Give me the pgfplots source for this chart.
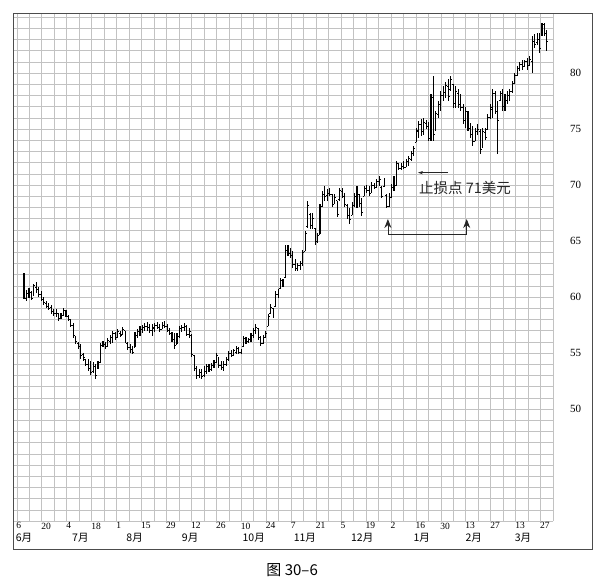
\documentclass[border=0pt]{standalone}
\usepackage{fontspec}
\setmainfont{Liberation Serif}
\newfontfamily\cjk{Noto Sans CJK SC}
\usepackage{pgfplots}
\pgfplotsset{compat=1.18}
\usepackage{pgfplotstable}
\usetikzlibrary{arrows.meta,calc}

% open / close ticks of the bars
\pgfdeclareplotmark{otick}{\pgfpathmoveto{\pgfpointorigin}\pgfpathlineto{\pgfpoint{-1.3pt}{0pt}}\pgfusepathqstroke}
\pgfdeclareplotmark{ctick}{\pgfpathmoveto{\pgfpointorigin}\pgfpathlineto{\pgfpoint{1.3pt}{0pt}}\pgfusepathqstroke}

% d = trading day, h l o c
\pgfplotstableread{
d h l o c
0 62.1 59.8 62.0 60.0
1 60.6 59.6 59.9 60.3
2 60.8 59.9 60.2 60.5
3 60.5 59.7 60.4 59.9
4 61.2 60.1 60.2 61.0
5 61.3 60.4 60.9 60.7
6 60.9 60.0 60.6 60.2
7 60.5 59.6 60.2 59.8
8 60.0 59.3 59.8 59.5
9 59.6 59.0 59.4 59.2
10 59.5 58.8 59.2 59.0
11 59.3 58.5 59.1 58.7
12 58.9 58.3 58.7 58.5
13 58.9 58.2 58.5 58.6
14 58.6 57.9 58.5 58.1
15 58.6 58.0 58.1 58.4
16 59.0 58.3 58.4 58.8
17 58.8 58.2 58.7 58.4
18 58.4 57.9 58.3 58.0
19 58.0 57.3 57.9 57.5
20 57.7 56.3 57.5 56.6
21 56.5 55.8 56.5 56.0
22 56.0 55.4 55.9 55.6
23 55.8 54.5 55.6 54.8
24 55.0 54.3 54.9 54.6
25 54.5 53.8 54.4 54.0
26 54.5 53.4 54.0 53.7
27 54.3 53.0 53.6 53.3
28 54.2 53.2 53.4 53.9
29 54.0 52.7 53.8 53.0
30 54.3 53.6 53.6 54.1
31 55.9 54.1 54.2 55.7
32 56.1 55.5 55.7 55.8
33 56.0 55.4 55.8 55.6
34 56.3 55.5 55.6 56.1
35 56.6 55.8 56.0 56.4
36 57.0 55.9 56.4 56.8
37 56.9 56.2 56.8 56.4
38 57.1 56.3 56.4 56.9
39 57.0 56.4 56.8 56.6
40 57.3 56.6 56.7 57.1
41 57.0 55.9 57.0 56.0
42 56.0 55.3 55.9 55.5
43 55.8 55.0 55.5 55.3
44 55.6 54.9 55.3 55.1
45 56.9 55.5 55.5 56.7
46 57.1 56.3 56.6 56.9
47 57.4 56.5 56.9 57.2
48 57.5 56.8 57.1 57.3
49 57.7 57.0 57.3 57.4
50 57.8 57.0 57.4 57.3
51 57.6 56.8 57.3 57.0
52 57.6 56.5 57.0 57.3
53 57.7 56.9 57.2 57.5
54 57.8 57.1 57.5 57.3
55 57.6 56.9 57.3 57.1
56 57.8 57.1 57.1 57.6
57 57.9 57.2 57.5 57.4
58 57.6 56.9 57.4 57.0
59 57.2 56.6 57.0 56.8
60 56.9 56.0 56.8 56.2
61 56.8 55.4 56.2 55.7
62 56.8 55.8 55.8 56.5
63 57.4 56.3 56.5 57.2
64 57.5 56.9 57.2 57.3
65 57.7 57.0 57.3 57.4
66 57.5 56.5 57.4 56.7
67 57.2 56.3 56.7 56.9
68 56.7 54.6 56.6 54.9
69 54.8 53.4 54.8 53.6
70 53.8 52.7 53.6 53.0
71 53.6 52.8 53.0 53.3
72 53.6 52.7 53.3 52.9
73 53.8 52.9 53.0 53.5
74 54.0 53.1 53.4 53.8
75 54.0 53.3 53.8 53.5
76 54.1 53.4 53.5 53.9
77 54.4 53.7 53.9 54.2
78 55.0 54.1 54.2 54.8
79 54.6 53.7 54.6 53.9
80 54.3 53.5 53.9 53.7
81 54.3 53.4 53.7 54.0
82 54.6 53.8 54.0 54.4
83 55.2 54.3 54.4 55.0
84 55.3 54.6 55.0 54.8
85 55.4 54.7 54.8 55.2
86 55.6 54.9 55.1 55.4
87 55.5 54.9 55.4 55.1
88 55.4 54.9 55.1 55.3
89 56.5 55.6 55.6 56.3
90 56.4 55.8 56.3 56.0
91 56.3 55.9 56.0 56.2
92 56.8 56.0 56.2 56.6
93 57.2 56.3 56.6 57.0
94 57.6 56.7 57.0 57.3
95 57.2 56.2 57.2 56.4
96 56.5 55.6 56.4 55.9
97 56.6 55.8 55.9 56.4
98 57.0 56.3 56.4 56.8
99 58.5 57.4 57.4 58.3
100 59.4 58.5 58.5 59.1
101 59.0 58.1 59.0 58.4
102 60.5 59.2 59.2 60.2
103 60.7 59.9 60.2 60.5
104 61.7 60.8 60.8 61.5
105 61.6 60.9 61.4 61.2
106 64.6 61.7 61.8 64.2
107 64.6 63.7 64.2 64.0
108 64.4 63.5 63.9 63.7
109 64.1 62.6 63.7 62.9
110 63.4 62.3 62.9 62.6
111 63.0 62.3 62.6 62.8
112 63.2 62.4 62.8 63.0
113 64.2 62.8 63.0 64.0
114 65.9 64.1 64.1 65.7
115 68.6 66.2 66.3 68.2
116 67.5 66.1 67.4 66.4
117 67.5 66.1 66.4 67.0
118 66.2 64.6 66.1 64.9
119 65.7 64.8 65.0 65.5
120 68.3 65.6 65.6 68.0
121 69.5 68.0 68.1 69.2
122 69.9 68.6 69.2 69.0
123 69.6 68.6 69.1 69.3
124 69.7 69.0 69.3 69.2
125 69.2 68.0 69.2 68.3
126 69.2 68.4 68.4 68.9
127 68.6 67.1 68.6 67.4
128 69.7 68.6 68.7 69.5
129 69.7 68.8 69.4 69.0
130 69.3 68.0 69.0 68.3
131 68.3 67.0 68.2 67.3
132 67.9 66.5 67.3 66.9
133 68.5 67.3 67.3 68.3
134 69.3 68.0 68.2 69.0
135 69.9 67.9 68.9 69.6
136 69.2 68.0 69.2 68.4
137 68.8 67.2 68.4 67.6
138 69.9 69.0 69.0 69.7
139 70.0 69.3 69.7 69.5
140 69.9 69.0 69.5 69.3
141 70.3 69.3 69.4 70.0
142 70.2 69.6 70.0 69.8
143 70.5 69.7 69.8 70.3
144 70.8 69.9 70.3 70.5
145 69.9 68.8 69.8 69.0
146 70.6 69.8 69.9 70.4
147 69.2 67.9 69.1 68.1
148 69.3 68.0 68.1 69.0
149 70.1 68.8 68.9 69.8
150 70.8 69.5 69.7 70.6
151 72.1 69.9 70.0 71.9
152 72.0 71.3 71.8 71.5
153 72.0 71.3 71.5 71.7
154 72.1 71.4 71.7 71.6
155 72.3 71.6 71.6 72.1
156 72.6 71.7 72.0 72.4
157 73.0 72.1 72.3 72.8
158 73.5 72.6 72.8 73.3
159 75.1 73.8 73.8 74.9
160 75.7 74.2 74.8 75.4
161 75.9 74.4 75.4 74.8
162 76.0 74.5 74.8 75.6
163 75.8 75.0 75.5 75.2
164 75.6 73.9 75.2 74.2
165 78.1 73.9 74.2 77.8
166 79.7 73.9 77.8 74.5
167 76.6 74.8 74.9 76.4
168 77.5 76.0 76.3 77.2
169 78.4 76.6 77.0 78.0
170 78.8 77.5 78.0 78.3
171 79.2 77.8 78.2 78.9
172 79.5 77.5 78.8 77.9
173 79.7 78.4 78.5 79.4
174 79.0 76.9 79.0 77.3
175 78.8 76.9 77.3 78.4
176 78.6 76.9 78.2 77.2
177 78.1 76.6 77.2 76.9
178 77.2 75.4 76.9 75.7
179 77.0 75.1 75.8 76.6
180 76.6 74.8 76.3 75.1
181 75.5 74.2 75.1 74.5
182 75.3 73.5 74.6 73.9
183 75.1 73.9 73.9 74.8
184 75.4 74.5 74.8 75.0
185 75.0 72.8 74.8 73.2
186 75.1 73.6 73.4 74.8
187 75.1 74.0 74.7 74.3
188 76.3 75.0 75.0 76.0
189 77.2 75.9 76.0 76.9
190 78.6 76.0 76.8 78.2
191 78.4 76.3 78.2 76.6
192 77.5 72.8 76.6 75.8
193 78.4 77.5 77.6 78.2
194 78.6 76.6 78.2 77.0
195 78.1 76.6 77.0 77.8
196 78.4 77.2 77.6 78.0
197 78.6 77.5 78.0 78.4
198 79.3 78.2 78.4 79.1
199 80.0 79.1 79.1 79.8
200 80.6 79.7 79.8 80.4
201 81.0 80.2 80.4 80.8
202 81.2 80.3 80.8 80.6
203 81.2 80.5 80.6 81.0
204 81.3 80.3 81.0 80.7
205 81.5 80.6 80.7 81.2
206 83.3 80.0 81.0 82.9
207 83.5 82.2 82.8 82.6
208 83.6 82.5 82.7 83.0
209 83.6 81.8 83.0 82.2
210 84.5 83.3 83.5 84.3
211 84.5 83.3 84.3 83.5
212 83.8 82.0 83.2 82.8
}\ohlc

\begin{document}
\begin{tikzpicture}
\begin{axis}[
  name=main,
  scale only axis,
  width=539.7pt, height=507.4pt,
  xmin=-0.28, xmax=43, ymin=40, ymax=85.3,
  axis line style={draw=none},
  xtick={0,2,...,42},
  xticklabels={6,20,4,18,1,15,29,12,26,10,24,7,21,5,19,2,16,30,13,27,13,27},
  minor xtick={1,3,...,43},
  ytick={50,55,...,80},
  yticklabels={50,55,60,65,70,75,80},
  minor ytick={40,...,85},
  grid=both,
  major grid style={black!24, line width=0.5pt},
  minor grid style={black!24, line width=0.5pt},
  major tick length=0pt, minor tick length=0pt,
  yticklabel pos=right,
  xticklabel style={anchor=north west, font=\fontsize{9.5}{9.5}\selectfont, inner sep=0pt, xshift=-0.5pt, yshift=-1.5pt},
  yticklabel style={anchor=west, font=\fontsize{11}{11}\selectfont, inner sep=0pt, xshift=17pt},
  clip=false,
]
% high-low bars with the open tick
\addplot[only marks, mark=otick, black, line width=0.6pt,
  error bars/.cd, y dir=both, y explicit, error mark=none,
  error bar style={line width=1.1pt, black}]
  table[x expr=0.58+0.1978*\thisrow{d}, y=o,
        y error plus expr=\thisrow{h}-\thisrow{o},
        y error minus expr=\thisrow{o}-\thisrow{l}] {\ohlc};
% close ticks
\addplot[only marks, mark=ctick, black, line width=0.6pt]
  table[x expr=0.58+0.1978*\thisrow{d}, y=c] {\ohlc};

% month names
\foreach \w/\m in {0.58/6,5.1/7,9.45/8,13.9/9,19.0/10,23.1/11,27.7/12,32.47/1,36.64/2,40.6/3}{
  \edef\tmp{\noexpand\node[font=\noexpand\cjk\noexpand\fontsize{10.5}{10.5}\noexpand\selectfont, inner sep=0pt] at (axis cs:\w,40) [yshift=-16.5pt] {\m 月};}
  \tmp
}

% stop annotation
\draw[-{Stealth[length=5pt,width=3.2pt]}, line width=0.5pt, black!85] (axis cs:34.58,71.1) -- (axis cs:32.17,71.1);
\node[font=\cjk\fontsize{14.5}{14.5}\selectfont, inner sep=0pt, black!85] at (axis cs:35.94,69.69) {止损点 71美元};
\draw[{Stealth[length=9pt,width=7pt]}-{Stealth[length=9pt,width=7pt]}, line width=0.8pt, black!85]
  (axis cs:29.76,66.96) -- (axis cs:29.76,65.62) -- (axis cs:36.08,65.62) -- (axis cs:36.08,66.96);
\end{axis}

\draw[line width=0.9pt, black!70] ($(main.south west)+(0,-28pt)$) rectangle ($(main.north east)+(39.5pt,0)$);
\node[font=\cjk\fontsize{15}{15}\selectfont] at ($(main.south)+(9pt,-49pt)$) {图 30–6};
\path[use as bounding box] ($(main.south west)+(-13.3pt,-57pt)$) rectangle ($(main.north east)+(51pt,13.6pt)$);
\end{tikzpicture}
\end{document}
